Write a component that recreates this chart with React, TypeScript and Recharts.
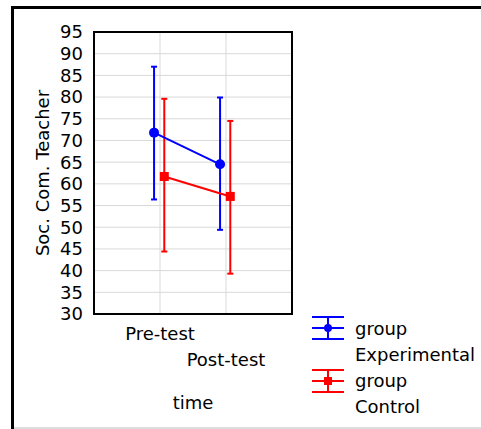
import { ScatterChart, Scatter, XAxis, YAxis, CartesianGrid, ErrorBar, ReferenceArea, Legend } from 'recharts';

const TIMES = ['Pre-test', 'Post-test'];
const GROUPS = ['Experimental', 'Control'];
const COLORS = ['#0000ff', '#ff0000'];

const EXP_MEAN = [71.8, 64.5];
const EXP_LOW = [56.4, 49.4];
const EXP_HIGH = [87.0, 79.9];

const CTRL_MEAN = [61.7, 57.1];
const CTRL_LOW = [44.4, 39.3];
const CTRL_HIGH = [79.6, 74.5];

const Y_TICKS = [30, 35, 40, 45, 50, 55, 60, 65, 70, 75, 80, 85, 90, 95];

// small horizontal dodge so the two groups' error bars do not overlap
const DODGE = [-0.09, 0.065];
const FONT = '"DejaVu Sans", sans-serif';
const FS = 18;

const toPoints = (mean: number[], low: number[], high: number[], shift: number) =>
  mean.map((m, i) => ({ x: i + 1 + shift, y: m, err: [m - low[i], high[i] - m] }));

const expData = toPoints(EXP_MEAN, EXP_LOW, EXP_HIGH, DODGE[0]);
const ctrlData = toPoints(CTRL_MEAN, CTRL_LOW, CTRL_HIGH, DODGE[1]);

const Circle = ({ cx, cy }: any) => <circle cx={cx} cy={cy} r={5} fill={COLORS[0]} />;
const Square = ({ cx, cy }: any) => <rect x={cx - 4.5} y={cy - 4.5} width={9} height={9} fill={COLORS[1]} />;

const TimeTick = ({ x, y, payload, index }: any) => (
  <text x={x} y={y + 26 + index * 26} textAnchor="middle" fill="#000" fontSize={FS} fontFamily={FONT}>
    {TIMES[Math.round(payload.value) - 1]}
  </text>
);

const YLabel = ({ viewBox }: any) => {
  const cx = viewBox.x + 28;
  const cy = viewBox.y + viewBox.height / 2;
  return (
    <text x={cx} y={cy} transform={`rotate(-90 ${cx} ${cy})`} textAnchor="middle" dominantBaseline="central"
      fill="#000" fontSize={FS} fontFamily={FONT}>
      Soc. Com. Teacher
    </text>
  );
};

const LegendBox = () => (
  <div style={{ fontFamily: FONT, fontSize: FS, lineHeight: '26px', color: '#000' }}>
    {GROUPS.map((g, i) => (
      <div key={g} style={{ display: 'flex', height: 52 }}>
        <svg width={34} height={26} style={{ marginTop: i === 0 ? 0 : 1, flex: 'none' }}>
          <g stroke={COLORS[i]} strokeWidth={2}>
            <line x1={0} x2={32} y1={1} y2={1} />
            <line x1={0} x2={32} y1={12} y2={12} />
            <line x1={0} x2={32} y1={23} y2={23} />
            <line x1={16} x2={16} y1={1} y2={23} />
          </g>
          {i === 0 ? <circle cx={16} cy={12} r={4} fill={COLORS[0]} /> : <rect x={12} y={8} width={8} height={8} fill={COLORS[1]} />}
        </svg>
        <div style={{ marginLeft: 9, whiteSpace: 'nowrap' }}>
          group
          <br />
          {g}
        </div>
      </div>
    ))}
  </div>
);

export default function App() {
  return (
    <div style={{ position: 'absolute', left: 0, top: 0, width: 481, height: 429, background: '#fff' }}>
      <div style={{ position: 'absolute', left: 11, top: 6, width: 470, height: 3, background: '#000' }} />
      <div style={{ position: 'absolute', left: 11, top: 6, width: 3, height: 423, background: '#000' }} />
      <div style={{ position: 'absolute', left: 14, top: 427, width: 467, height: 2, background: '#ddd' }} />
      <ScatterChart width={481} height={429} margin={{ top: 32, right: 189, bottom: 15, left: 14 }}
        style={{ fontFamily: FONT }}>
        <CartesianGrid stroke="#d9d9d9" strokeWidth={1} />
        <XAxis type="number" dataKey="x" domain={[0, 3]} ticks={[1, 2]} height={100}
          axisLine={false} tickLine={false} tickSize={0} tickMargin={0} tick={<TimeTick />}
          label={{ value: 'time', position: 'insideBottom', offset: 5, fill: '#000', fontSize: FS, fontFamily: FONT }} />
        <YAxis type="number" dataKey="y" domain={[30, 95]} ticks={Y_TICKS} interval={0} width={80}
          axisLine={false} tickLine={false} tickSize={0} tickMargin={11}
          tick={{ fill: '#000', fontSize: FS, fontFamily: FONT }} label={<YLabel />} />
        <ReferenceArea x1={0} x2={3} y1={30} y2={95} fill="none" stroke="#000" strokeWidth={2} ifOverflow="visible" />
        <Scatter name={GROUPS[0]} data={expData} fill={COLORS[0]} shape={<Circle />}
          line={{ stroke: COLORS[0], strokeWidth: 2 }} isAnimationActive={false}>
          <ErrorBar dataKey="err" direction="y" stroke={COLORS[0]} strokeWidth={2} width={3} isAnimationActive={false} />
        </Scatter>
        <Scatter name={GROUPS[1]} data={ctrlData} fill={COLORS[1]} shape={<Square />}
          line={{ stroke: COLORS[1], strokeWidth: 2 }} isAnimationActive={false}>
          <ErrorBar dataKey="err" direction="y" stroke={COLORS[1]} strokeWidth={2} width={3} isAnimationActive={false} />
        </Scatter>
        <Legend layout="vertical" align="center" verticalAlign="middle" content={<LegendBox />}
          wrapperStyle={{ left: 312, top: 316, width: 170 }} />
      </ScatterChart>
    </div>
  );
}
